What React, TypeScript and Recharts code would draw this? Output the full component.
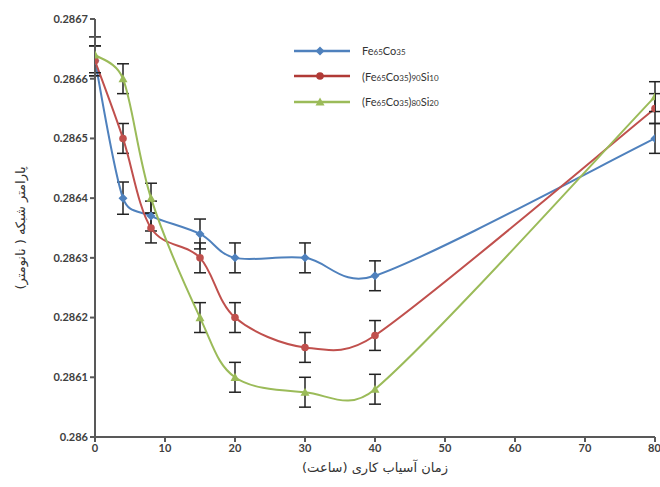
import React from 'react';
import {
  LineChart,
  Line,
  XAxis,
  YAxis,
  ErrorBar,
  Label,
} from 'recharts';

// milling time (h)
const hours = [0, 4, 8, 15, 20, 30, 40, 80];

// lattice parameter (nm)
const feCo = [0.28663, 0.2864, 0.28637, 0.28634, 0.2863, 0.2863, 0.28627, 0.2865];
const si10 = [0.28663, 0.2865, 0.28635, 0.2863, 0.2862, 0.28615, 0.28617, 0.28655];
const si20 = [0.28664, 0.2866, 0.2864, 0.2862, 0.2861, 0.286075, 0.28608, 0.28657];

// error bar half-heights
const feCoErr = [0.000025, 0.000027, 0.000025, 0.000025, 0.000025, 0.000025, 0.000025, 0.000025];
const si10Err = [0.000025, 0.000025, 0.000025, 0.000025, 0.000025, 0.000025, 0.000025, 0.000025];
const si20Err = [0.00003, 0.000025, 0.000025, 0.000025, 0.000025, 0.000025, 0.000025, 0.000025];

const yTicks = [0.286, 0.2861, 0.2862, 0.2863, 0.2864, 0.2865, 0.2866, 0.2867];
const xTicks = [0, 10, 20, 30, 40, 50, 60, 70, 80];

const BLUE = '#4f81bd';
const RED = '#c0504d';
const GREEN = '#9bbb59';
const AXIS = '#595959';

const data = hours.map((h, i) => ({
  h,
  feCo: feCo[i],
  si10: si10[i],
  si20: si20[i],
  feCoErr: feCoErr[i],
  si10Err: si10Err[i],
  si20Err: si20Err[i],
}));

const dist = (a: number[], b: number[]) => Math.hypot(a[0] - b[0], a[1] - b[1]);

// Excel-like smoothed line: 1/6 tangents, shortened when the neighbour segment is long
const smooth = (context: any) => {
  let pts: number[][] = [];
  return {
    areaStart() {},
    areaEnd() {},
    lineStart() {
      pts = [];
    },
    point(x: number, y: number) {
      pts.push([+x, +y]);
    },
    lineEnd() {
      if (!pts.length) return;
      context.moveTo(pts[0][0], pts[0][1]);
      for (let i = 0; i < pts.length - 1; i++) {
        const p0 = pts[Math.max(i - 1, 0)];
        const p1 = pts[i];
        const p2 = pts[i + 1];
        const p3 = pts[Math.min(i + 2, pts.length - 1)];
        const d12 = dist(p1, p2);
        const d02 = dist(p0, p2);
        const d13 = dist(p1, p3);
        let f1 = 1 / 6;
        let f2 = 1 / 6;
        if (d02 / 6 > d12 / 2 && d02 > 0) f1 = d12 / (2 * d02);
        if (d13 / 6 > d12 / 2 && d13 > 0) f2 = d12 / (2 * d13);
        context.bezierCurveTo(
          p1[0] + (p2[0] - p0[0]) * f1,
          p1[1] + (p2[1] - p0[1]) * f1,
          p2[0] - (p3[0] - p1[0]) * f2,
          p2[1] - (p3[1] - p1[1]) * f2,
          p2[0],
          p2[1]
        );
      }
    },
  };
};

const Diamond = ({ cx, cy, fill }: any) => {
  if (cx == null || cy == null) return null;
  const r = 4.5;
  return <path d={`M${cx},${cy - r}L${cx + r},${cy}L${cx},${cy + r}L${cx - r},${cy}Z`} fill={fill} />;
};
const Dot = ({ cx, cy, fill }: any) => {
  if (cx == null || cy == null) return null;
  return <circle cx={cx} cy={cy} r={3.8} fill={fill} />;
};
const Tri = ({ cx, cy, fill }: any) => {
  if (cx == null || cy == null) return null;
  const r = 4.5;
  return <path d={`M${cx},${cy - r}L${cx + r},${cy + r * 0.8}L${cx - r},${cy + r * 0.8}Z`} fill={fill} />;
};

const legendItems = [
  { color: BLUE, Marker: Diamond, parts: [['Fe', ''], ['65', 's'], ['Co', ''], ['35', 's']] },
  { color: '#b03a36', Marker: Dot, parts: [['(Fe', ''], ['65', 's'], ['Co', ''], ['35', 's'], [')', ''], ['90', 's'], ['Si', ''], ['10', 's']] },
  { color: GREEN, Marker: Tri, parts: [['(Fe', ''], ['65', 's'], ['Co', ''], ['35', 's'], [')', ''], ['80', 's'], ['Si', ''], ['20', 's']] },
];

const LegendBox = () => (
  <div
    style={{
      position: 'absolute',
      left: 292,
      top: 38,
      fontFamily: 'Lato, sans-serif',
      fontSize: 11,
      color: '#333',
    }}
  >
    {legendItems.map((it, i) => (
      <div key={i} style={{ display: 'flex', alignItems: 'center', height: 25.5 }}>
        <svg width={60} height={12} style={{ marginRight: 10 }}>
          <line x1={2} y1={6} x2={58} y2={6} stroke={it.color} strokeWidth={2.5} />
          <it.Marker cx={28} cy={6} fill={it.color} />
        </svg>
        <span>
          {it.parts.map(([t, k], j) =>
            k === 's' ? (
              <span key={j} style={{ fontSize: 8 }}>{t}</span>
            ) : (
              <span key={j}>{t}</span>
            )
          )}
        </span>
      </div>
    ))}
  </div>
);

const fmtY = (v: number) => String(parseFloat(v.toFixed(4)));

const tickStyle = { fontFamily: 'Lato, sans-serif', fontSize: 11, fontWeight: 700, fill: '#404040' };

export default function App() {
  return (
    <div style={{ position: 'absolute', left: 0, top: 0, width: 660, height: 487, background: '#fff' }}>
      <LineChart width={660} height={487} data={data} margin={{ top: 19, right: 5, bottom: 0, left: 0 }}>
        <XAxis
          dataKey="h"
          type="number"
          domain={[0, 80]}
          ticks={xTicks}
          allowDataOverflow
          stroke={AXIS}
          strokeWidth={2}
          tickSize={5}
          tick={tickStyle}
          height={50}
        >
          <Label
            content={() => (
              <text x={375} y={472} textAnchor="middle" fontFamily="DejaVu Sans" fontSize={13} fill="#333">
                زمان آسیاب کاری (ساعت)
              </text>
            )}
          />
        </XAxis>
        <YAxis
          type="number"
          domain={[0.286, 0.2867]}
          ticks={yTicks}
          allowDataOverflow
          tickFormatter={fmtY}
          stroke={AXIS}
          strokeWidth={2}
          tickSize={5}
          tick={tickStyle}
          width={95}
        >
          <Label
            content={() => (
              <text
                x={25}
                y={228}
                textAnchor="middle"
                transform="rotate(-90,25,228)"
                fontFamily="DejaVu Sans"
                fontSize={13}
                fill="#333"
              >
                پارامتر شبکه ( نانومتر)
              </text>
            )}
          />
        </YAxis>
        <Line
          dataKey="feCo"
          type={smooth as any}
          stroke={BLUE}
          strokeWidth={2}
          dot={<Diamond fill={BLUE} />}
          activeDot={false}
          isAnimationActive={false}
        >
          <ErrorBar dataKey="feCoErr" direction="y" width={6} stroke="#222" strokeWidth={1.5} />
        </Line>
        <Line
          dataKey="si10"
          type={smooth as any}
          stroke={RED}
          strokeWidth={2}
          dot={<Dot fill={RED} />}
          activeDot={false}
          isAnimationActive={false}
        >
          <ErrorBar dataKey="si10Err" direction="y" width={6} stroke="#222" strokeWidth={1.5} />
        </Line>
        <Line
          dataKey="si20"
          type={smooth as any}
          stroke={GREEN}
          strokeWidth={2}
          dot={<Tri fill={GREEN} />}
          activeDot={false}
          isAnimationActive={false}
        >
          <ErrorBar dataKey="si20Err" direction="y" width={6} stroke="#222" strokeWidth={1.5} />
        </Line>
      </LineChart>
      <LegendBox />
    </div>
  );
}
